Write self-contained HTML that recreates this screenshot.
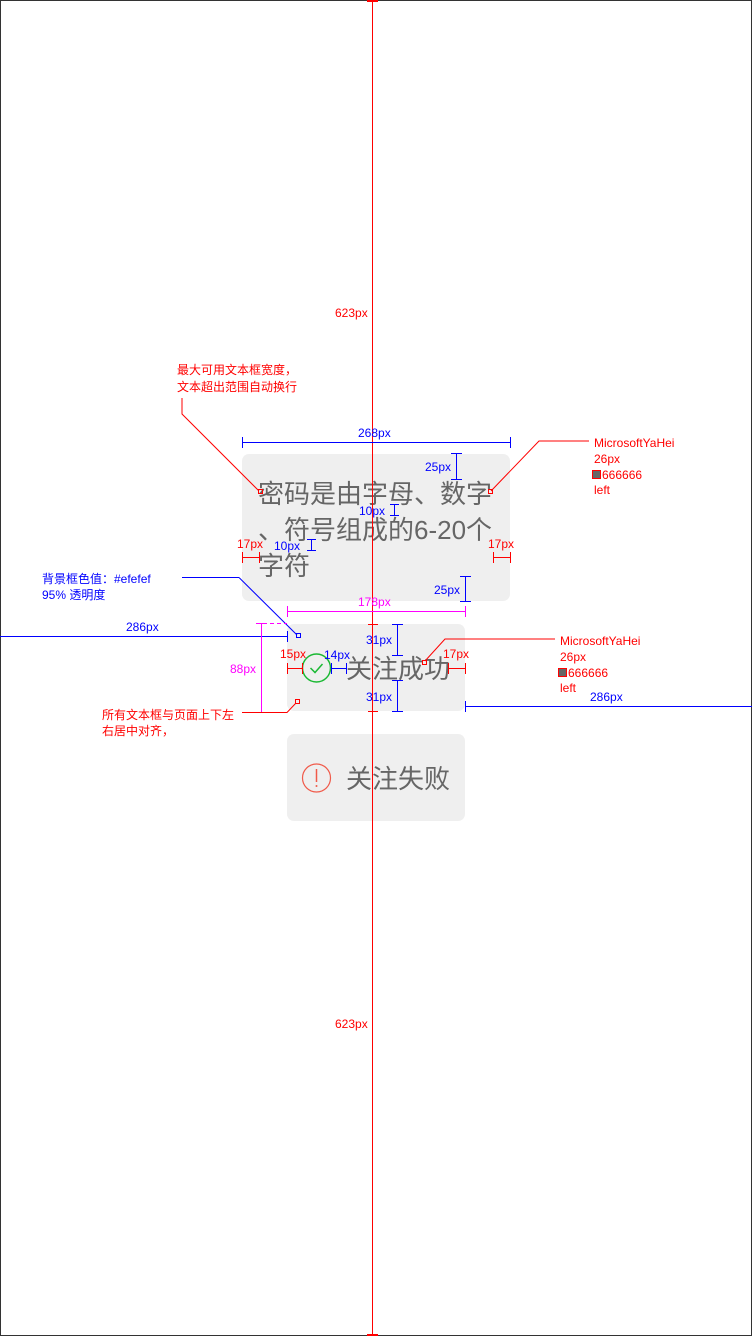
<!DOCTYPE html>
<html><head><meta charset="utf-8"><style>
html,body{margin:0;padding:0;background:#fff;}
svg{display:block;}
text{font-family:"Liberation Sans","Noto Sans CJK SC",sans-serif;}
</style></head><body>
<svg width="752" height="1336" viewBox="0 0 752 1336" xmlns="http://www.w3.org/2000/svg">
<rect x="0.5" y="0.5" width="751" height="1335" fill="#fff" stroke="#333" stroke-width="1"/>
<!-- boxes -->
<rect x="242" y="454" width="268" height="147" rx="7" fill="#efefef"/>
<rect x="287" y="624" width="178" height="87" rx="7" fill="#efefef"/>
<rect x="287" y="734" width="178" height="87" rx="7" fill="#efefef"/>
<!-- main texts -->
<g font-size="26" fill="#666">
<text x="258" y="503">密码是由字母、数字</text>
<text x="258" y="539">、符号组成的6-20个</text>
<text x="258" y="575">字符</text>
<text x="346" y="678">关注成功</text>
<text x="346" y="788">关注失败</text>
</g>
<!-- icons -->
<circle cx="316.5" cy="668" r="14" fill="none" stroke="#1bb934" stroke-width="1.5"/>
<polyline points="310.5,668 315,672.5 322.5,664" fill="none" stroke="#1bb934" stroke-width="1.5"/>
<circle cx="316.5" cy="778" r="14" fill="none" stroke="#f05a4a" stroke-width="1.2"/>
<line x1="316.5" y1="769" x2="316.5" y2="782" stroke="#f05a4a" stroke-width="1.5"/>
<circle cx="316.5" cy="786" r="1" fill="#f05a4a"/>
<!-- central vertical red line -->
<line x1="372.5" y1="0" x2="372.5" y2="1336" stroke="#f00" stroke-width="1"/>
<line x1="367" y1="1" x2="378" y2="1" stroke="#f00" stroke-width="2"/>
<line x1="367" y1="1335" x2="378" y2="1335" stroke="#f00" stroke-width="2"/>
<line x1="368" y1="624.5" x2="378" y2="624.5" stroke="#f00"/>
<line x1="368" y1="711.5" x2="378" y2="711.5" stroke="#f00"/>
<g font-size="12" fill="#f00">
<text x="335" y="317">623px</text>
<text x="335" y="1028">623px</text>
</g>
<!-- blue dims -->
<g stroke="#00f" stroke-width="1" fill="none">
<line x1="242" y1="442.5" x2="510" y2="442.5"/><line x1="242.5" y1="437" x2="242.5" y2="448"/><line x1="510.5" y1="437" x2="510.5" y2="448"/>
<line x1="456.5" y1="454" x2="456.5" y2="479"/><line x1="451" y1="453.5" x2="462" y2="453.5"/><line x1="451" y1="479.5" x2="462" y2="479.5"/>
<line x1="465.5" y1="576" x2="465.5" y2="601"/><line x1="460" y1="576.5" x2="471" y2="576.5"/><line x1="460" y1="601.5" x2="471" y2="601.5"/>
<line x1="394.5" y1="505" x2="394.5" y2="515"/><line x1="390" y1="504.5" x2="399" y2="504.5"/><line x1="390" y1="515.5" x2="399" y2="515.5"/>
<line x1="311.5" y1="540" x2="311.5" y2="550"/><line x1="307" y1="539.5" x2="316" y2="539.5"/><line x1="307" y1="550.5" x2="316" y2="550.5"/>
<line x1="0" y1="636.5" x2="287" y2="636.5"/><line x1="287.5" y1="631" x2="287.5" y2="642"/>
<line x1="465" y1="706.5" x2="752" y2="706.5"/><line x1="465.5" y1="701" x2="465.5" y2="712"/>
<line x1="397.5" y1="624" x2="397.5" y2="655"/><line x1="392" y1="624.5" x2="403" y2="624.5"/><line x1="392" y1="655.5" x2="403" y2="655.5"/>
<line x1="397.5" y1="680" x2="397.5" y2="711"/><line x1="392" y1="680.5" x2="403" y2="680.5"/><line x1="392" y1="711.5" x2="403" y2="711.5"/>
<line x1="331" y1="668.5" x2="346" y2="668.5"/><line x1="331.5" y1="663" x2="331.5" y2="674"/><line x1="346.5" y1="663" x2="346.5" y2="674"/>
<line x1="182" y1="577.5" x2="239" y2="577.5"/><line x1="239" y1="577.5" x2="297" y2="635"/>
<rect x="296.5" y="633.5" width="4" height="4"/>
</g>
<g font-size="12" fill="#00f">
<text x="358" y="437">268px</text>
<text x="425" y="471">25px</text>
<text x="434" y="594">25px</text>
<text x="359" y="515">10px</text>
<text x="274" y="550">10px</text>
<text x="126" y="631">286px</text>
<text x="590" y="701">286px</text>
<text x="366" y="644">31px</text>
<text x="366" y="701">31px</text>
<text x="324" y="659">14px</text>
<text x="42" y="583">背景框色值：#efefef</text>
<text x="42" y="599">95% 透明度</text>
</g>
<!-- red dims -->
<g stroke="#f00" stroke-width="1" fill="none">
<line x1="242" y1="557.5" x2="259" y2="557.5"/><line x1="242.5" y1="552" x2="242.5" y2="563"/><line x1="259.5" y1="552" x2="259.5" y2="563"/>
<line x1="493" y1="557.5" x2="510" y2="557.5"/><line x1="493.5" y1="552" x2="493.5" y2="563"/><line x1="510.5" y1="552" x2="510.5" y2="563"/>
<line x1="287" y1="668.5" x2="302" y2="668.5"/><line x1="287.5" y1="663" x2="287.5" y2="674"/><line x1="302.5" y1="663" x2="302.5" y2="674"/>
<line x1="448" y1="668.5" x2="465" y2="668.5"/><line x1="448.5" y1="663" x2="448.5" y2="674"/><line x1="465.5" y1="663" x2="465.5" y2="674"/>
<polyline points="182,398 182,414 259,491"/>
<rect x="258.5" y="489.5" width="4" height="4"/>
<polyline points="589,441 539,441 491,491"/>
<rect x="488.5" y="489.5" width="4" height="4"/>
<polyline points="555,639 445,639 425,661"/>
<rect x="422.5" y="660.5" width="4" height="4"/>
<polyline points="242,712.5 287,712.5 296,703"/>
<rect x="295.5" y="699.5" width="4" height="4"/>
</g>
<rect x="592.5" y="470.5" width="8" height="8" fill="#666" stroke="#f00"/>
<rect x="558.5" y="668.5" width="8" height="8" fill="#666" stroke="#f00"/>
<g font-size="12" fill="#f00">
<text x="237" y="548">17px</text>
<text x="488" y="548">17px</text>
<text x="280" y="658">15px</text>
<text x="443" y="658">17px</text>
<text x="177" y="374">最大可用文本框宽度，</text>
<text x="177" y="391">文本超出范围自动换行</text>
<text x="594" y="447">MicrosoftYaHei</text>
<text x="594" y="463">26px</text>
<text x="602" y="479">666666</text>
<text x="594" y="494">left</text>
<text x="560" y="645">MicrosoftYaHei</text>
<text x="560" y="661">26px</text>
<text x="568" y="677">666666</text>
<text x="560" y="692">left</text>
<text x="102" y="719">所有文本框与页面上下左</text>
<text x="102" y="735">右居中对齐，</text>
</g>
<!-- magenta dims -->
<g stroke="#f0f" stroke-width="1" fill="none">
<line x1="287" y1="611.5" x2="465" y2="611.5"/><line x1="287.5" y1="606" x2="287.5" y2="617"/><line x1="465.5" y1="606" x2="465.5" y2="617"/>
<line x1="261.5" y1="624" x2="261.5" y2="712"/><line x1="256" y1="623.5" x2="267" y2="623.5"/>
<line x1="270" y1="623.5" x2="287" y2="623.5" stroke-dasharray="4,3"/>
</g>
<g font-size="12" fill="#f0f">
<text x="358" y="606">178px</text>
<text x="230" y="673">88px</text>
</g>
</svg>
</body></html>
